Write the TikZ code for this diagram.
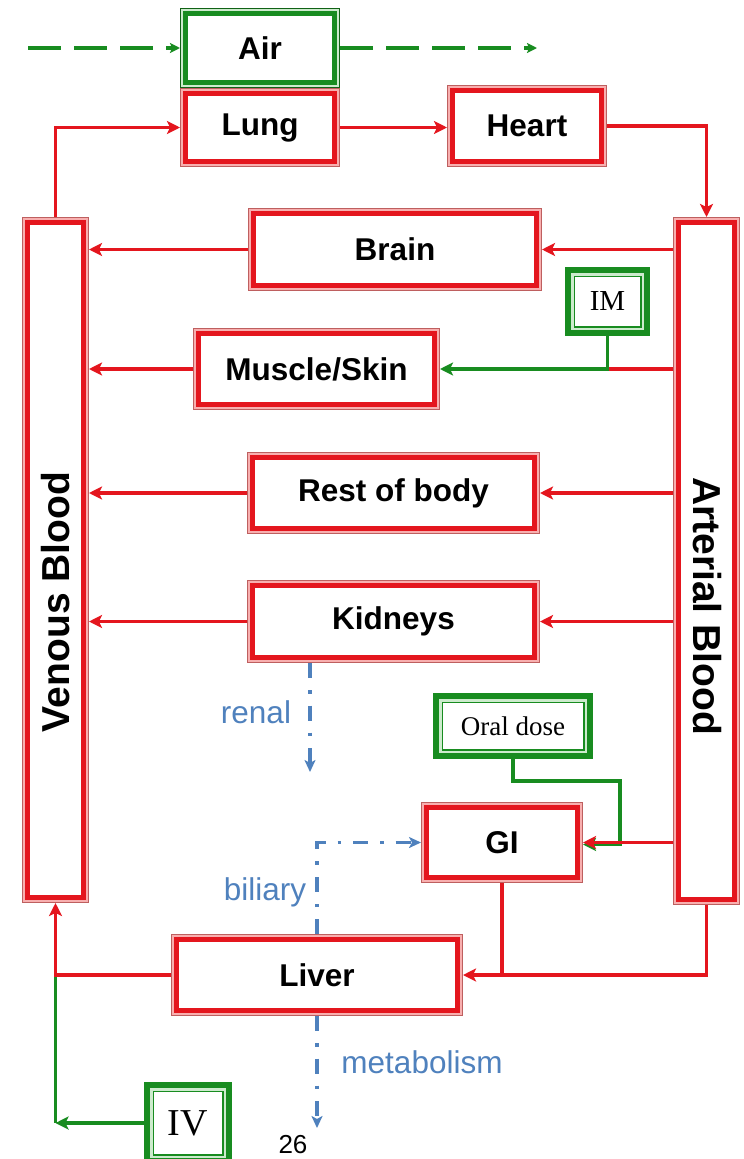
\documentclass[tikz,border=0pt]{standalone}
\usepackage{fontspec}
\setmainfont{Liberation Sans}
\newfontfamily\serifface{Liberation Serif}
\usetikzlibrary{arrows.meta}
\definecolor{boxred}{RGB}{228,22,30}
\definecolor{boxpink}{RGB}{248,175,175}
\definecolor{boxedge}{RGB}{190,95,95}
\definecolor{boxgreen}{RGB}{24,140,32}
\definecolor{gapgreen}{RGB}{205,235,205}
\definecolor{flowblue}{RGB}{79,129,189}
\begin{document}
\begin{tikzpicture}[x=1pt,y=-1pt,
  rbox/.style={draw=boxred, fill=white, line width=5pt, outer sep=5.7pt, inner sep=0pt,
    preaction={draw=boxedge, line width=11.4pt},
    preaction={draw=boxpink, line width=9pt},
    font=\fontsize{31.5}{36}\selectfont\bfseries},
  gboxa/.style={rbox, draw=boxgreen,
    preaction={draw=boxgreen!70!black, line width=11.4pt},
    preaction={draw=gapgreen, line width=9pt}},
  gboxb/.style={draw=boxgreen, fill=white, line width=6pt, outer sep=3pt, inner sep=0pt,
    path picture={
      \fill[gapgreen] (path picture bounding box.north west) rectangle (path picture bounding box.south east);
      \draw[boxgreen, line width=1.5pt, fill=white]
        ([shift={(6.25pt,-6.25pt)}]path picture bounding box.north west) rectangle
        ([shift={(-6.25pt,6.25pt)}]path picture bounding box.south east);},
    font=\serifface\fontsize{27}{32}\selectfont},
  bigtext/.style={font=\fontsize{39}{44}\selectfont\bfseries, inner sep=0pt},
  lbl/.style={font=\fontsize{31.5}{36}\selectfont, text=flowblue, inner sep=0pt},
  rline/.style={draw=boxred, line width=3.3pt},
  rarrow/.style={rline, -{Stealth[length=13pt,width=13pt,inset=3pt]}},
  gline/.style={draw=boxgreen, line width=3.3pt},
  garrow/.style={gline, -{Stealth[length=13pt,width=13pt,inset=3pt]}},
  airflow/.style={draw=boxgreen, line width=4pt, dash pattern=on 33pt off 13pt,
    -{Stealth[length=10pt,width=10pt,inset=2pt]}},
  excrete/.style={draw=flowblue, line width=3.5pt, dash pattern=on 15pt off 12pt on 3.5pt off 12pt,
    -{Stealth[length=12pt,width=11pt,inset=3pt]}}
]
\useasboundingbox (0,0) rectangle (744,1159);

% boxes
\node[gboxa, minimum width=148.6pt, minimum height=68.6pt] (air) at (260,48) {Air};
\node[rbox, minimum width=148.6pt, minimum height=67.6pt] (lung) at (260,127.5) {Lung};
\node[rbox, minimum width=148.6pt, minimum height=70.6pt] (heart) at (527,126) {Heart};
\node[rbox, minimum width=55.6pt, minimum height=674.6pt] (ven) at (55.5,560) {};
\node[rbox, minimum width=55.6pt, minimum height=676.6pt] (art) at (706.5,561) {};
\node[bigtext, rotate=90] (ventext) at (55.5,602) {Venous Blood};
\node[bigtext, rotate=-90] (arttext) at (707,606) {Arterial Blood};
\node[rbox, minimum width=282.6pt, minimum height=71.6pt] (brain) at (395,249.5) {Brain};
\node[gboxb, minimum width=79pt, minimum height=63pt, font=\serifface\fontsize{29}{33}\selectfont] (im) at (607.5,301.5) {IM};
\node[rbox, minimum width=235.6pt, minimum height=70.6pt] (musc) at (316.5,369) {Muscle/Skin};
\node[rbox, minimum width=281.6pt, minimum height=70.6pt] (rest) at (393.5,493) {Rest of body};
\node[rbox, minimum width=281.6pt, minimum height=71.6pt] (kid) at (393.5,621.5) {Kidneys};
\node[gboxb, minimum width=154pt, minimum height=60pt] (oral) at (513,726) {Oral dose};
\node[rbox, minimum width=150.6pt, minimum height=69.6pt] (gi) at (502,842.5) {GI};
\node[rbox, minimum width=280.6pt, minimum height=70.6pt] (liver) at (317,975) {Liver};
\node[gboxb, minimum width=82pt, minimum height=76pt, font=\serifface\fontsize{38}{42}\selectfont] (iv) at (188,1123) {IV};

% labels
\node[lbl] (renal) at (256,712) {renal};
\node[lbl] (biliary) at (265,892) {biliary};
\node[lbl] (metab) at (422,1062) {metabolism};
\node[font=\fontsize{26}{30}\selectfont, inner sep=0pt] (page) at (293,1145) {26};

% free ends
\coordinate (airin) at (28,48);
\coordinate (airout) at (537,48);
\coordinate (renalend) at (310,772);
\coordinate (metabend) at (317,1128);
\coordinate (oralturn) at (620,781);

% air flow
\draw[airflow] (airin) -- (air.west);
\draw[airflow] (air.east) -- (airout);

% circulation
\draw[rarrow] (ven.north) |- (lung.west);
\draw[rarrow] (lung.east) -- (lung.east -| heart.west);
\draw[rarrow] (heart.east) -| (art.north);

\draw[rarrow] (brain.east -| art.west) -- (brain.east);
\draw[rarrow] (brain.west) -- (brain.west -| ven.east);

\draw[rline] (musc.east -| art.west) -- (musc.east -| im.south);
\draw[garrow] (im.south) |- (musc.east);
\draw[rarrow] (musc.west) -- (musc.west -| ven.east);

\draw[rarrow] (rest.east -| art.west) -- (rest.east);
\draw[rarrow] (rest.west) -- (rest.west -| ven.east);

\draw[rarrow] (kid.east -| art.west) -- (kid.east);
\draw[rarrow] (kid.west) -- (kid.west -| ven.east);

\draw[garrow] (oral.south) |- (oralturn) |- ([yshift=-2pt]gi.east);
\draw[rarrow] (gi.east -| art.west) -- (gi.east);

\draw[rline] (gi.south) -- (gi.south |- liver.east);
\draw[rarrow] (art.south) |- (liver.east);

\draw[gline] (liver.west -| ven.south) -- (iv.west -| ven.south);
\draw[garrow] (iv.west) -- (iv.west -| ven.south);
\draw[rarrow] (liver.west) -| (ven.south);

% excretion / secretion
\draw[excrete] (kid.south -| renalend) -- (renalend);
\draw[excrete] (liver.north) |- (gi.west);
\draw[excrete] (liver.south) -- (metabend);
\end{tikzpicture}
\end{document}
